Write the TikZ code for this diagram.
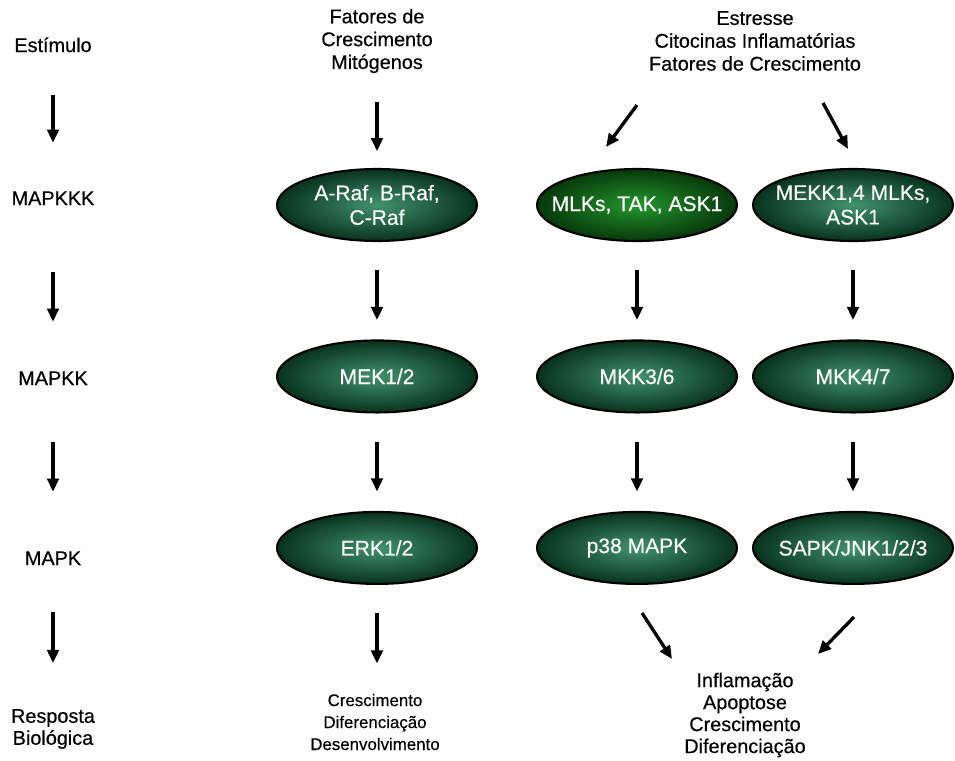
\documentclass[tikz,border=0pt]{standalone}
\usepackage{fontspec}
\setmainfont{Liberation Sans}[UprightFeatures={FakeBold=0.4}]
\usetikzlibrary{shapes.geometric, arrows.meta, positioning}
\definecolor{kinaselight}{RGB}{66,146,110}
\definecolor{kinasedark}{RGB}{8,50,30}
\definecolor{mlklight}{RGB}{36,150,46}
\definecolor{mlkdark}{RGB}{6,56,10}
\tikzstyle{kinase} = [ellipse, draw=black, line width=1.2pt, inner color=kinaselight, outer color=kinasedark, minimum width=4cm, minimum height=1.44cm, inner xsep=-12pt, inner ysep=0pt, text=white, align=center, font=\fontsize{12}{14}\selectfont]
\tikzstyle{mlkkinase} = [inner color=mlklight, outer color=mlkdark]
\tikzstyle{stage} = [inner sep=0pt, text height=8pt, text depth=0pt, font=\fontsize{11.3}{12.5}\selectfont]
\tikzstyle{stimtext} = [inner sep=0pt, align=center, font=\fontsize{11.3}{13}\selectfont]
\tikzstyle{resptext} = [inner sep=0pt, align=center, font=\fontsize{9.6}{12.5}\selectfont]
\tikzstyle{arrow} = [line width=1.9pt, -{Triangle[width=6.5pt,length=7.5pt]}]

\begin{document}
\begin{tikzpicture}[x=0.02cm, y=-0.02cm, node distance=3.43cm]
    \useasboundingbox (0,0) rectangle (955,760);

    % levels on the left
    \node (stim) [stage] at (53,45) {Estímulo};
    \node (mapkkk) [stage] at (53,198) {MAPKKK};
    \node (mapkk) [stage] at (53,378) {MAPKK};
    \node (mapk) [stage] at (53,558) {MAPK};
    \node (resp) [stimtext, font=\fontsize{11.3}{12.5}\selectfont] at (53,729) {Resposta\\Biológica};

    % stimuli
    \node (gf) [stimtext] at (377,41) {Fatores de\\Crescimento\\Mitógenos};
    \node (stress) [stimtext] at (755,41) {Estresse\\Citocinas Inflamatórias\\Fatores de Crescimento};

    % kinase cascades
    \node (raf) [kinase] at (377,205) {A-Raf, B-Raf,\\C-Raf};
    \node (mlk) [kinase, mlkkinase] at (637,205) {MLKs, TAK, ASK1};
    \node (mekk) [kinase] at (853,205) {MEKK1,4 MLKs,\\ASK1};
    \node (mek) [kinase, below of=raf] {MEK1/2};
    \node (mkk36) [kinase, below of=mlk] {MKK3/6};
    \node (mkk47) [kinase, below of=mekk] {MKK4/7};
    \node (erk) [kinase, below of=mek] {ERK1/2};
    \node (p38) [kinase, below of=mkk36] {p38 MAPK};
    \node (jnk) [kinase, below of=mkk47] {SAPK/JNK1/2/3};

    % responses
    \node (growth) [resptext] at (375,722) {Crescimento\\Diferenciação\\Desenvolvimento};
    \node (inflam) [stimtext, font=\fontsize{11.3}{12.5}\selectfont] at (745,715) {Inflamação\\Apoptose\\Crescimento\\Diferenciação};

    % free ends of the slanted arrows
    \coordinate (stress-l) at (637,105);
    \coordinate (mlk-in) at (606,147);
    \coordinate (stress-r) at (823,103);
    \coordinate (mekk-in) at (848,149);
    \coordinate (p38-out) at (642,613);
    \coordinate (inflam-l) at (672,659);
    \coordinate (jnk-out) at (854,617);
    \coordinate (inflam-r) at (818,654);

    \draw[arrow, shorten <=24.4pt, shorten >=27.2pt] (stim) -- (mapkkk);
    \draw[arrow, shorten <=38pt, shorten >=27.8pt] (mapkkk) -- (mapkk);
    \draw[arrow, shorten <=32.3pt, shorten >=33.5pt] (mapkk) -- (mapk);
    \draw[arrow, shorten <=26.5pt, shorten >=26pt] (mapk) -- (resp);

    \draw[arrow, shorten <=16pt, shorten >=9.5pt] (gf) -- (raf);
    \draw[arrow] (stress-l) -- (mlk-in);
    \draw[arrow] (stress-r) -- (mekk-in);

    \draw[arrow, shorten <=16pt, shorten >=11pt] (raf) -- (mek);
    \draw[arrow, shorten <=16pt, shorten >=11pt] (mlk) -- (mkk36);
    \draw[arrow, shorten <=16pt, shorten >=11pt] (mekk) -- (mkk47);
    \draw[arrow, shorten <=16pt, shorten >=11pt] (mek) -- (erk);
    \draw[arrow, shorten <=16pt, shorten >=11pt] (mkk36) -- (p38);
    \draw[arrow, shorten <=16pt, shorten >=11pt] (mkk47) -- (jnk);

    \draw[arrow, shorten <=16pt, shorten >=17pt] (erk) -- (erk |- growth.north);
    \draw[arrow] (p38-out) -- (inflam-l);
    \draw[arrow] (jnk-out) -- (inflam-r);

    \end{tikzpicture}
\end{document}
